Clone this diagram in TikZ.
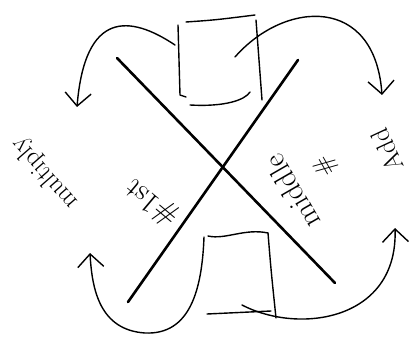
\documentclass[tikz,border=0pt]{standalone}
\usetikzlibrary{arrows.meta}
\begin{document}
\begin{tikzpicture}[
    x=1pt, y=-1pt,
    stroke/.style={draw, line width=1.4pt, line cap=round, line join=round},
    cross/.style={draw, line width=2.6pt, line cap=round},
    arrow/.style={stroke, -{Straight Barb[length=13pt, width=26pt, line width=1.4pt]}},
    hand/.style={font=\fontsize{26}{30}\selectfont, inner sep=0pt}
]
    \useasboundingbox (0,0) rectangle (409,339);

    % the big X
    \coordinate (xnw) at (117,58);
    \coordinate (xse) at (335,283);
    \coordinate (xne) at (298,60);
    \coordinate (xsw) at (128,302);
    \draw[cross] (xnw) -- (xse);
    \draw[cross] (xne) -- (xsw);

    % top box
    \coordinate (tl) at (178,25);
    \coordinate (tr) at (256,20);
    \draw[stroke] (186,22) .. controls (215,20) .. (255,15);
    \draw[stroke] (tl) .. controls (179,60) .. (180,95) -- (186,97);
    \draw[stroke] (tr) -- (262,100);
    \draw[stroke] (190,105) .. controls (225,107) and (245,100) .. (250,92);

    % bottom box
    \coordinate (bl) at (204,237);
    \coordinate (br) at (268,233);
    \draw[stroke] (208,236) .. controls (225,240) and (245,228) .. (br);
    \draw[stroke] (br) .. controls (271,270) .. (276,318);
    \draw[stroke] (207,314) -- (271,311);

    % arrows round the X
    \coordinate (mul) at (77,107);
    \coordinate (add) at (382,95);
    \coordinate (mulb) at (90,253);
    \coordinate (addb) at (395,228);
    \draw[arrow] (175,45) .. controls (130,15) and (85,10) .. (mul);
    \draw[arrow] (235,57) .. controls (285,0) and (375,-5) .. (add);
    \draw[arrow] (bl) .. controls (202,290) and (190,335) .. (145,333)
        .. controls (100,330) and (92,290) .. (mulb);
    \draw[arrow] (242,305) .. controls (300,335) and (398,320) .. (addb);

    % handwritten labels
    \node[hand, rotate=131] (multiply) at (45,173) {multiply};
    \node[hand, rotate=115] (addlabel) at (387,150) {Add};
    \node[hand, rotate=140, font=\fontsize{30}{34}\selectfont] (first) at (152,202) {\#1st};
    \node[hand, rotate=120, font=\fontsize{30}{34}\selectfont] (middle) at (292,192) {middle};
    \node[hand, rotate=120] (hash) at (326,166) {\#};
\end{tikzpicture}
\end{document}
